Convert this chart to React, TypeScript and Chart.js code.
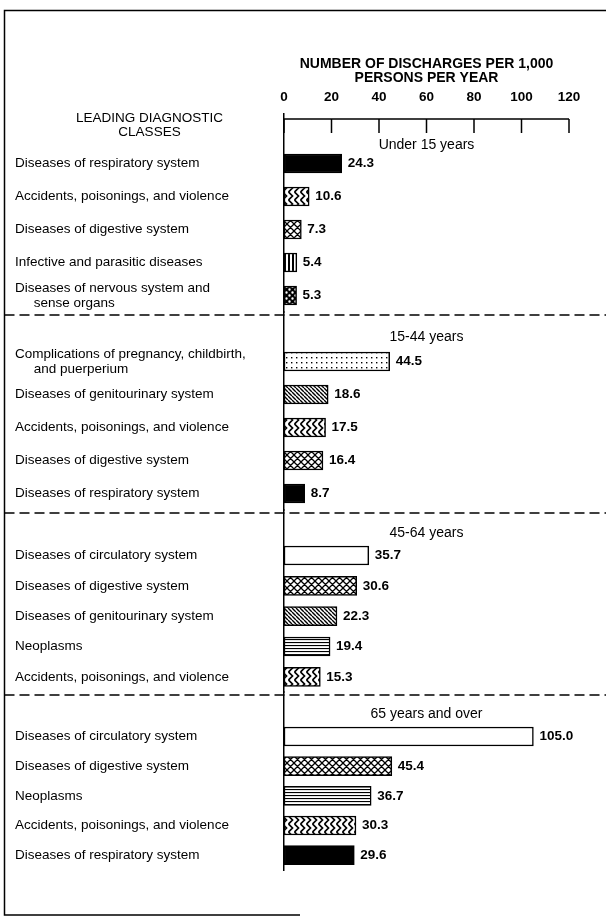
import { useEffect, useRef } from 'react';
import { Chart, registerables } from 'chart.js';

Chart.register(...registerables);

// ---------------- DATA ----------------
const AGE_GROUPS = ['Under 15 years', '15-44 years', '45-64 years', '65 years and over'];

const UNDER_15_CLASSES = [
  'Diseases of respiratory system',
  'Accidents, poisonings, and violence',
  'Diseases of digestive system',
  'Infective and parasitic diseases',
  'Diseases of nervous system and sense organs',
];
const UNDER_15_VALUES = [24.3, 10.6, 7.3, 5.4, 5.3];

const AGE_15_44_CLASSES = [
  'Complications of pregnancy, childbirth, and puerperium',
  'Diseases of genitourinary system',
  'Accidents, poisonings, and violence',
  'Diseases of digestive system',
  'Diseases of respiratory system',
];
const AGE_15_44_VALUES = [44.5, 18.6, 17.5, 16.4, 8.7];

const AGE_45_64_CLASSES = [
  'Diseases of circulatory system',
  'Diseases of digestive system',
  'Diseases of genitourinary system',
  'Neoplasms',
  'Accidents, poisonings, and violence',
];
const AGE_45_64_VALUES = [35.7, 30.6, 22.3, 19.4, 15.3];

const AGE_65_PLUS_CLASSES = [
  'Diseases of circulatory system',
  'Diseases of digestive system',
  'Neoplasms',
  'Accidents, poisonings, and violence',
  'Diseases of respiratory system',
];
const AGE_65_PLUS_VALUES = [105.0, 45.4, 36.7, 30.3, 29.6];

const X_TICKS = [0, 20, 40, 60, 80, 100, 120];
const X_AXIS_TITLE = ['NUMBER OF DISCHARGES PER 1,000', 'PERSONS PER YEAR'];
const ROW_AXIS_TITLE = ['LEADING DIAGNOSTIC', 'CLASSES'];

// ---------------- STYLE ----------------
// label wrapping (display only)
const LABEL_LINES: Record<string, string[]> = {
  'Diseases of nervous system and sense organs': ['Diseases of nervous system and', '     sense organs'],
  'Complications of pregnancy, childbirth, and puerperium': ['Complications of pregnancy, childbirth,', '     and puerperium'],
};

// fill style per diagnostic class
const PATTERN_BY_CLASS: Record<string, string> = {
  'Diseases of respiratory system': 'solid',
  'Accidents, poisonings, and violence': 'chevron',
  'Diseases of digestive system': 'crosshatch',
  'Infective and parasitic diseases': 'vstripes',
  'Diseases of nervous system and sense organs': 'dots',
  'Complications of pregnancy, childbirth, and puerperium': 'finedots',
  'Diseases of genitourinary system': 'diagonal',
  'Diseases of circulatory system': 'white',
  'Neoplasms': 'hlines',
};

// relative heights of the four stacked group panels
const GROUP_PANEL_WEIGHTS = [198, 198, 182, 178];

const FONT = '"Liberation Sans", Arial, Helvetica, sans-serif';
const INK = '#000';

const GROUP_CLASSES = [UNDER_15_CLASSES, AGE_15_44_CLASSES, AGE_45_64_CLASSES, AGE_65_PLUS_CLASSES];
const GROUP_VALUES = [UNDER_15_VALUES, AGE_15_44_VALUES, AGE_45_64_VALUES, AGE_65_PLUS_VALUES];

function makePattern(kind: string): CanvasPattern | string {
  if (kind === 'solid') return '#000';
  if (kind === 'white') return '#fff';
  const c = document.createElement('canvas');
  const x = c.getContext('2d')!;
  const tile = (w: number, h: number, bg = '#fff') => {
    c.width = w;
    c.height = h;
    x.fillStyle = bg;
    x.fillRect(0, 0, w, h);
    x.strokeStyle = '#000';
    x.fillStyle = '#000';
  };
  switch (kind) {
    case 'chevron': {
      tile(6, 8);
      x.lineWidth = 1.7;
      x.beginPath();
      x.moveTo(0.5, 0);
      x.lineTo(4.5, 4);
      x.lineTo(0.5, 8);
      x.stroke();
      break;
    }
    case 'crosshatch': {
      tile(7, 7);
      x.lineWidth = 1.3;
      x.beginPath();
      for (const k of [-7, 0, 7]) {
        x.moveTo(k, 0);
        x.lineTo(k + 7, 7);
        x.moveTo(k + 7, 0);
        x.lineTo(k, 7);
      }
      x.stroke();
      break;
    }
    case 'diagonal': {
      tile(4, 4);
      x.lineWidth = 1.4;
      x.beginPath();
      for (const k of [-4, 0, 4]) {
        x.moveTo(k, 0);
        x.lineTo(k + 4, 4);
      }
      x.stroke();
      break;
    }
    case 'vstripes': {
      tile(4, 4);
      x.fillRect(0, 0, 2, 4);
      break;
    }
    case 'hlines': {
      tile(4, 3);
      x.fillRect(0, 0, 4, 1.1);
      break;
    }
    case 'dots': {
      tile(6, 6, '#000');
      x.fillStyle = '#fff';
      x.beginPath();
      x.arc(1.5, 1.5, 1.2, 0, Math.PI * 2);
      x.arc(4.5, 4.5, 1.2, 0, Math.PI * 2);
      x.fill();
      break;
    }
    case 'finedots': {
      tile(5, 5);
      x.fillRect(1, 2, 1.4, 1.4);
      break;
    }
    default:
      return '#fff';
  }
  return x.createPattern(c, 'repeat') ?? '#fff';
}

const groupAxisId = (g: number) => `yG${g + 1}`;

const decorations = {
  id: 'decorations',
  afterDraw(chart: any) {
    const { ctx, chartArea, scales } = chart;
    const xs = scales.x;
    ctx.save();

    // frame
    ctx.strokeStyle = INK;
    ctx.lineWidth = 1.5;
    ctx.beginPath();
    ctx.moveTo(chart.width, 10.5);
    ctx.lineTo(4.5, 10.5);
    ctx.lineTo(4.5, chart.height - 2);
    ctx.lineTo(300, chart.height - 2);
    ctx.stroke();

    // value axis line with downward ticks
    const axisY = chartArea.top + 5;
    const tickBottom = axisY + 14;
    ctx.beginPath();
    ctx.moveTo(xs.getPixelForValue(X_TICKS[0]), axisY);
    ctx.lineTo(xs.getPixelForValue(X_TICKS[X_TICKS.length - 1]), axisY);
    X_TICKS.forEach((v) => {
      const px = xs.getPixelForValue(v);
      ctx.moveTo(px, axisY);
      ctx.lineTo(px, tickBottom);
    });
    ctx.stroke();

    // row axis title
    const firstAxis = scales[groupAxisId(0)];
    ctx.fillStyle = INK;
    ctx.font = `13.5px ${FONT}`;
    ctx.textAlign = 'center';
    ctx.textBaseline = 'middle';
    const cx = (firstAxis.left + firstAxis.right) / 2;
    ROW_AXIS_TITLE.forEach((t, i) => ctx.fillText(t, cx, chartArea.top + 4 + i * 14));

    // group headers, dashed separators, value labels
    const midX = (chartArea.left + chartArea.right) / 2;
    AGE_GROUPS.forEach((g, gi) => {
      const ys = scales[groupAxisId(gi)];
      const step = ys.getPixelForValue(1) - ys.getPixelForValue(0);
      ctx.font = `14px ${FONT}`;
      ctx.textAlign = 'center';
      const hy = Math.max(ys.getPixelForValue(0) + step * 0.25, tickBottom + 12);
      ctx.fillText(g, midX, hy);
      if (gi > 0) {
        const dy = ys.top + 3;
        ctx.setLineDash([10, 5]);
        ctx.lineWidth = 1.5;
        ctx.beginPath();
        ctx.moveTo(4.5, dy);
        ctx.lineTo(chart.width, dy);
        ctx.stroke();
        ctx.setLineDash([]);
      }
      const meta = chart.getDatasetMeta(gi);
      ctx.font = `bold 13.5px ${FONT}`;
      ctx.textAlign = 'left';
      meta.data.forEach((el: any, i: number) => {
        const v = chart.data.datasets[gi].data[i];
        if (v == null) return;
        ctx.fillText(Number(v).toFixed(1), el.x + 6, el.y);
      });
    });

    ctx.restore();
  },
};

export default function App() {
  const ref = useRef<HTMLCanvasElement | null>(null);

  useEffect(() => {
    if (!ref.current) return;

    const datasets = GROUP_CLASSES.map((classes, g) => ({
      label: AGE_GROUPS[g],
      xAxisID: 'x',
      yAxisID: groupAxisId(g),
      data: [null, ...GROUP_VALUES[g]] as any,
      backgroundColor: ['transparent', ...classes.map((c) => makePattern(PATTERN_BY_CLASS[c] ?? 'white'))] as any,
      borderColor: '#000',
      borderWidth: 1.5,
      borderSkipped: false as any,
      barThickness: 19,
      grouped: false,
    }));

    const scales: any = {
      x: {
        position: 'top',
        min: 0,
        max: 120,
        afterBuildTicks: (s: any) => {
          s.ticks = X_TICKS.map((v) => ({ value: v }));
        },
        afterFit: (s: any) => {
          s.height = 114;
        },
        grid: { display: false, drawTicks: false, tickLength: 0 },
        border: { display: false },
        ticks: {
          padding: 9,
          color: INK,
          font: { family: FONT, size: 13.5, weight: 'bold' },
        },
        title: {
          display: true,
          text: X_AXIS_TITLE,
          color: INK,
          font: { family: FONT, size: 14, weight: 'bold', lineHeight: 1 },
          padding: { top: 57, bottom: 0 },
        },
      },
    };
    // add group axes bottom-first so that the first group is stacked on top
    for (let g = GROUP_CLASSES.length - 1; g >= 0; g--) {
      scales[groupAxisId(g)] = {
        type: 'category',
        position: 'left',
        stack: 'rows',
        stackWeight: GROUP_PANEL_WEIGHTS[g],
        offset: true,
        labels: ['', ...GROUP_CLASSES[g].map((c) => LABEL_LINES[c] ?? c)],
        afterFit: (s: any) => {
          s.width = 269;
        },
        grid: { display: false, drawTicks: false },
        border: { display: true, color: '#000', width: 1.5 },
        ticks: {
          autoSkip: false,
          crossAlign: 'far',
          color: INK,
          font: { family: FONT, size: 13.5, lineHeight: 1.12 },
        },
      };
    }

    const chart = new Chart(ref.current, {
      type: 'bar',
      data: { datasets },
      options: {
        indexAxis: 'y',
        animation: false,
        responsive: false,
        devicePixelRatio: 1,
        layout: { padding: { left: 15, right: 37, top: 0, bottom: 47 } },
        plugins: { legend: { display: false }, tooltip: { enabled: false } },
        scales,
      },
      plugins: [decorations],
    });
    return () => chart.destroy();
  }, []);

  return (
    <div style={{ position: 'absolute', left: 0, top: 0, width: 606, height: 917, background: '#fff' }}>
      <canvas ref={ref} width={606} height={917} style={{ display: 'block' }} />
    </div>
  );
}
